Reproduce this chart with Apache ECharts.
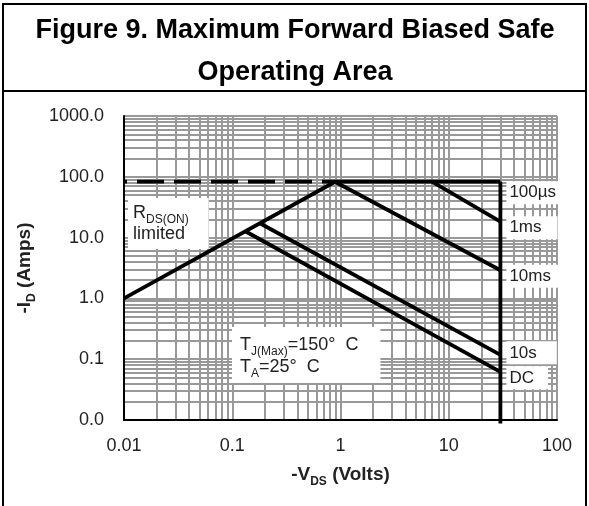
<!DOCTYPE html>
<html><head><meta charset="utf-8">
<script src="https://cdn.jsdelivr.net/npm/echarts@6/dist/echarts.min.js"></script>
<style>html,body{margin:0;padding:0;background:#fff}#c{width:589px;height:506px}</style>
</head><body><div id="c"></div>
<script>
// ---- data ----
const xTickValues = [0.01, 0.1, 1, 10, 100];
const xTickLabels = ['0.01', '0.1', '1', '10', '100'];
const yTickValues = [0.01, 0.1, 1, 10, 100, 1000];
const yTickLabels = ['0.0', '0.1', '1.0', '10.0', '100.0', '1000.0'];

const idMaxV = [0.01, 0.89];   const idMaxI = [83, 83];      // dashed current limit
const rdsV   = [0.01, 0.89];   const rdsI   = [1.0, 83];     // RDS(ON) limited
const us100V = [0.89, 30];     const us100I = [83, 83];
const ms1V   = [7.0, 30];      const ms1I   = [83, 18.3];
const ms10V  = [0.89, 30];     const ms10I  = [83, 2.9];
const s10V   = [0.18, 30];     const s10I   = [17.2, 0.118];
const dcV    = [0.132, 30];    const dcI    = [12.7, 0.062];
const vmaxV  = [30, 30];       const vmaxI  = [83, 0.0088];

const seriesNames = ['100µs', '1ms', '10ms', '10s', 'DC'];

// ---- helpers ----
const pts = (xs, ys) => xs.map((x, i) => [x, ys[i]]);
function tickLabel(values, labels) {
  return v => {
    const i = values.findIndex(t => Math.abs(Math.log10(t) - Math.log10(v)) < 1e-6);
    return i >= 0 ? labels[i] : '';
  };
}
const gridX = [], gridY = [];
for (let d = -2; d < 2; d++) for (let m = 1; m < 10; m++) gridX.push(m * Math.pow(10, d));
gridX.push(100);
for (let d = -2; d < 3; d++) for (let m = 1; m < 10; m++) gridY.push(m * Math.pow(10, d));
gridY.push(1000);

const FONT = '"Liberation Sans", Arial, sans-serif';
const TXT = '#222';
const curve = { color: '#000', width: 3.8 };

function endLbl(name, dy, padR) {
  return {
    show: true, formatter: name, distance: 6, offset: [0, dy],
    fontSize: 17, fontFamily: FONT, color: TXT,
    backgroundColor: '#fff', padding: [3, padR, 3, 3]
  };
}
const nameRich = {
  a: { fontSize: 19, fontWeight: 'bold', fontFamily: FONT, color: TXT, lineHeight: 22, verticalAlign: 'bottom' },
  s: { fontSize: 12, fontWeight: 'bold', fontFamily: FONT, color: TXT, lineHeight: 22, verticalAlign: 'bottom', padding: [0, 0, -4, 0] }
};

const chart = echarts.init(document.getElementById('c'), null, { renderer: 'canvas' });
chart.setOption({
  animation: false,
  backgroundColor: '#fff',
  grid: { left: 124, right: 32, top: 116, bottom: 86, containLabel: false },
  xAxis: {
    type: 'log', logBase: 10, min: 0.01, max: 100,
    axisLine: { show: true, onZero: false, lineStyle: { color: '#000', width: 2 } },
    axisTick: { show: false }, splitLine: { show: false },
    axisLabel: { formatter: tickLabel(xTickValues, xTickLabels), fontSize: 18, fontFamily: FONT, color: TXT, margin: 17 },
    name: '{a|-V}{s|DS}{a| (Volts)}', nameLocation: 'middle', nameGap: 42,
    nameTextStyle: { rich: nameRich }
  },
  yAxis: {
    type: 'log', logBase: 10, min: 0.01, max: 1000,
    axisLine: { show: true, onZero: false, lineStyle: { color: '#000', width: 2 } },
    axisTick: { show: false }, splitLine: { show: false },
    axisLabel: { formatter: tickLabel(yTickValues, yTickLabels), fontSize: 18, fontFamily: FONT, color: TXT, margin: 20 },
    name: '{a|-I}{s|D}{a| (Amps)}', nameLocation: 'middle', nameGap: 74, nameRotate: 90,
    nameTextStyle: { rich: nameRich }
  },
  graphic: [
    { type: 'line', shape: { x1: 2, y1: 4, x2: 587, y2: 4 }, style: { stroke: '#000', lineWidth: 2 } },
    { type: 'line', shape: { x1: 3, y1: 4, x2: 3, y2: 506 }, style: { stroke: '#000', lineWidth: 2 } },
    { type: 'line', shape: { x1: 586, y1: 4, x2: 586, y2: 506 }, style: { stroke: '#000', lineWidth: 2 } },
    { type: 'line', shape: { x1: 2, y1: 91, x2: 587, y2: 91 }, style: { stroke: '#000', lineWidth: 2 } },
    { type: 'text', x: 295, y: 31, style: { text: 'Figure 9. Maximum Forward Biased Safe', font: 'bold 27px ' + FONT, fill: '#000', align: 'center', verticalAlign: 'middle' } },
    { type: 'text', x: 295, y: 73, style: { text: 'Operating Area', font: 'bold 27px ' + FONT, fill: '#000', align: 'center', verticalAlign: 'middle' } },
    { type: 'text', x: 128, y: 198, z: 2,
      style: {
        text: '{a|R}{s|DS(ON)}\n{a|limited}',
        backgroundColor: '#fff', padding: [3, 20, 6, 5],
        rich: {
          a: { fontSize: 18, fontFamily: FONT, fill: TXT, lineHeight: 21, verticalAlign: 'bottom' },
          s: { fontSize: 12, fontFamily: FONT, fill: TXT, lineHeight: 21, verticalAlign: 'bottom', padding: [0, 0, -4, 0] }
        }
      } },
    { type: 'text', x: 232, y: 327, z: 2,
      style: {
        text: '{a|T}{s|J(Max)}{a|=150°  C}\n{a|T}{s|A}{a|=25°  C}',
        backgroundColor: '#fff', padding: [5, 22, 7, 8],
        rich: {
          a: { fontSize: 18, fontFamily: FONT, fill: TXT, lineHeight: 22, verticalAlign: 'bottom' },
          s: { fontSize: 12, fontFamily: FONT, fill: TXT, lineHeight: 22, verticalAlign: 'bottom', padding: [0, 0, -4, 0] }
        }
      } }
  ],
  series: [
    { type: 'line', data: [], z: 0, silent: true,
      markLine: { z: 0, silent: true, symbol: ['none', 'none'], label: { show: false },
        lineStyle: { type: 'solid', color: '#999', width: 2 }, emphasis: { disabled: true },
        data: gridX.map(v => ({ xAxis: v })).concat(gridY.map(v => ({ yAxis: v }))) } },
    { type: 'line', data: pts(idMaxV, idMaxI), symbol: 'none', z: 3, lineStyle: { color: '#000', width: 3.8, type: [27, 10], dashOffset: 24 } },
    { type: 'line', data: pts(rdsV, rdsI), symbol: 'none', z: 3, lineStyle: curve },
    { type: 'line', name: seriesNames[0], data: pts(us100V, us100I), symbol: 'none', z: 3, lineStyle: curve, endLabel: endLbl(seriesNames[0], 11, 6) },
    { type: 'line', name: seriesNames[1], data: pts(ms1V, ms1I), symbol: 'none', z: 3, lineStyle: curve, endLabel: endLbl(seriesNames[1], 6, 16) },
    { type: 'line', name: seriesNames[2], data: pts(ms10V, ms10I), symbol: 'none', z: 3, lineStyle: curve, endLabel: endLbl(seriesNames[2], 6, 10) },
    { type: 'line', name: seriesNames[3], data: pts(s10V, s10I), symbol: 'none', z: 3, lineStyle: curve, endLabel: endLbl(seriesNames[3], -2, 20) },
    { type: 'line', name: seriesNames[4], data: pts(dcV, dcI), symbol: 'none', z: 3, lineStyle: curve, endLabel: endLbl(seriesNames[4], 6, 14) },
    { type: 'line', data: pts(vmaxV, vmaxI), symbol: 'none', z: 4, clip: false, lineStyle: curve }
  ]
});
</script></body></html>
